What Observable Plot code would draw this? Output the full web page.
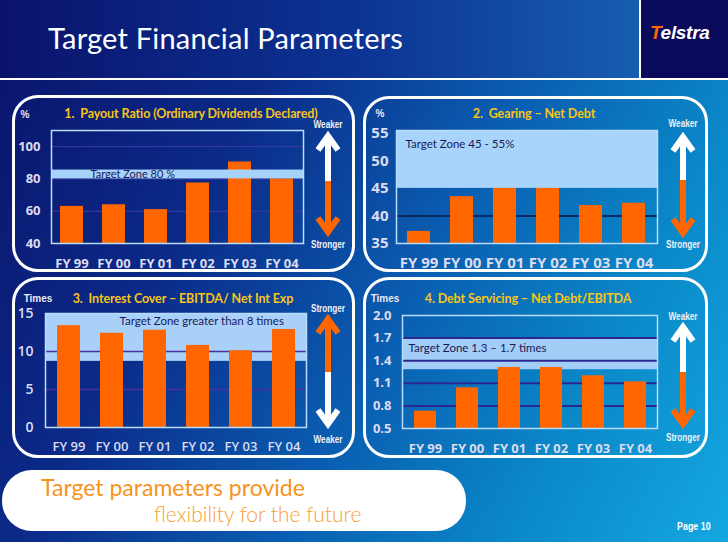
<!DOCTYPE html>
<html>
<head>
<meta charset="utf-8">
<script src="https://cdn.jsdelivr.net/npm/d3@7"></script>
<script src="https://cdn.jsdelivr.net/npm/@observablehq/plot@0.6"></script>
<style>
  html, body { margin: 0; padding: 0; }
  #slide { position: relative; width: 728px; height: 542px; overflow: hidden;
    background: linear-gradient(118deg, #0a136a 0%, #0b2a88 30%, #0a5cb0 55%, #0a88c8 78%, #14a8e0 100%);
    font-family: Lato, "Open Sans", sans-serif; }
  .abs { position: absolute; }
  #header { left: 0; top: 0; width: 728px; height: 78px;
    background: linear-gradient(90deg, #0a136c 0%, #0c3494 50%, #1a6cb8 100%); }
  #hline { left: 0; top: 78px; width: 728px; height: 2px; background: #fff; }
  #logo { left: 639px; top: 0; width: 89px; height: 78px; background: #0a0a5c; border-left: 2px solid #fff; box-sizing: border-box; }
  #logotext { left: 650px; top: 22px; font: italic bold 19px "Liberation Sans", sans-serif; color: #fff; letter-spacing: -0.3px; }
  #title { left: 48px; top: 20px; font-size: 29px; color: #fff; font-family: Lato, sans-serif; font-weight: 400; letter-spacing: 0.2px; }
  .panel { border: 3px solid #fff; border-radius: 26px; box-sizing: border-box; }
  .ptitle { color: #f7c41a; font-weight: 700; font-size: 12.5px; white-space: nowrap; transform: translate(-50%, -50%); letter-spacing: -0.1px; }
  .unit { color: #e8e8f4; font: bold 10px "Liberation Sans", sans-serif; transform: translate(-50%, -50%); white-space: nowrap; }
  .dir { color: #eef0f8; font: bold 10.5px "Liberation Sans", sans-serif; transform: translate(-50%, -50%) scaleX(0.78); white-space: nowrap; }
  .chart { position: absolute; }
  #pill { left: 2px; top: 470px; width: 464px; height: 61px; background: #fff; border-radius: 30px; }
  #tag1 { left: 41px; top: 473px; color: #f7931e; font-size: 23px; font-weight: 400; white-space: nowrap; }
  #tag2 { left: 154px; top: 501px; color: #f7a030; font-size: 21px; font-weight: 300; white-space: nowrap; }
  #page { left: 677px; top: 520px; color: #fff; font: bold 10.5px "Liberation Sans", sans-serif; transform-origin: left center; transform: scaleX(0.85); }
</style>
</head>
<body>
<div id="slide">
  <div id="header" class="abs"></div>
  <div id="hline" class="abs"></div>
  <div id="logo" class="abs"></div>
  <div id="logotext" class="abs"><span style="color:#ff6a00">T</span>elstra</div>
  <div id="title" class="abs">Target Financial Parameters</div>

  <div class="abs panel" style="left:12px;top:95px;width:343px;height:177px;"></div>
  <div class="abs panel" style="left:363px;top:96px;width:345px;height:176px;"></div>
  <div class="abs panel" style="left:12px;top:277px;width:343px;height:181px;"></div>
  <div class="abs panel" style="left:363px;top:277px;width:345px;height:181px;"></div>

  <div class="abs ptitle" style="left:191px;top:113px;">1.&nbsp; Payout Ratio (Ordinary Dividends Declared)</div>
  <div class="abs ptitle" style="left:534px;top:113px;">2.&nbsp; Gearing – Net Debt</div>
  <div class="abs ptitle" style="left:183px;top:298px;">3.&nbsp; Interest Cover – EBITDA/ Net Int Exp</div>
  <div class="abs ptitle" style="left:528px;top:298px;">4. Debt Servicing – Net Debt/EBITDA</div>

  <div class="abs unit" style="left:25px;top:114px;">%</div>
  <div class="abs unit" style="left:380px;top:113px;">%</div>
  <div class="abs unit" style="left:38px;top:298px;">Times</div>
  <div class="abs unit" style="left:385px;top:298px;">Times</div>

  <div class="abs dir" style="left:328px;top:124px;">Weaker</div>
  <div class="abs dir" style="left:328px;top:244px;">Stronger</div>
  <div class="abs dir" style="left:683px;top:123px;">Weaker</div>
  <div class="abs dir" style="left:683px;top:244px;">Stronger</div>
  <div class="abs dir" style="left:328px;top:308px;">Stronger</div>
  <div class="abs dir" style="left:328px;top:439px;">Weaker</div>
  <div class="abs dir" style="left:683px;top:316px;">Weaker</div>
  <div class="abs dir" style="left:683px;top:437px;">Stronger</div>

  <svg class="abs" id="arrows" width="728" height="542" style="left:0;top:0;pointer-events:none;"></svg>

  <div id="pill" class="abs"></div>
  <div id="tag1" class="abs">Target parameters provide</div>
  <div id="tag2" class="abs">flexibility for the future</div>
  <div id="page" class="abs">Page 10</div>
</div>
<script>
// ---------- data ----------
const years = ["FY 99", "FY 00", "FY 01", "FY 02", "FY 03", "FY 04"];

const payoutRatio = [63, 64, 61, 77.5, 90.5, 80];
const payoutTicks = [40, 60, 80, 100];
const payoutZone = [80, 85.5];
const payoutGrid = [60, 80, 100];
const payoutZoneLabel = "Target Zone 80 %";

const gearing = [37.2, 43.5, 47.5, 46.5, 41.9, 42.3];
const gearingTicks = [35, 40, 45, 50, 55];
const gearingZone = [45, 55.5];
const gearingGrid = [40];
const gearingZoneLabel = "Target Zone 45 - 55%";

const interestCover = [13.4, 12.4, 12.8, 10.8, 10.1, 12.9];
const coverTicks = [0, 5, 10, 15];
const coverZone = [8.7, 15];
const coverGrid = [5, 10];
const coverZoneLabel = "Target Zone greater than 8 times";

const debtServicing = [0.73, 1.04, 1.31, 1.31, 1.20, 1.12];
const servicingTicks = [0.5, 0.8, 1.1, 1.4, 1.7, 2.0];
const servicingZone = [1.28, 1.7];
const servicingGrid = [0.8, 1.1, 1.4, 1.7];
const servicingZoneLabel = "Target Zone 1.3 – 1.7 times";

// ---------- charts ----------
const slide = document.getElementById("slide");
const ORANGE = "#ff6600";

function makeChart(cfg) {
  const rows = years.map((y, i) => ({year: y, value: cfg.values[i]}));
  const band = Plot.rect([cfg.zone], {y1: d => d[0], y2: d => d[1], fill: cfg.zoneFill});
  const grid = Plot.ruleY(cfg.grid, {stroke: cfg.gridColor, strokeWidth: cfg.gridWidth});
  const bars = Plot.barY(rows, {x: "year", y: "value", fill: ORANGE, y1: cfg.domain[0]});
  const frame = Plot.frame({stroke: "#b8dcfa", strokeWidth: 1.5});
  const label = Plot.text([cfg.label], {
    frameAnchor: "left", y: cfg.labelY, dx: cfg.labelDx, textAnchor: "start",
    fill: "#1a1a5a", fontSize: cfg.labelSize, fontFamily: "Lato, sans-serif", text: d => d
  });
  const marks = cfg.bandOnTop
    ? [grid, bars, band, frame, label]
    : [band, grid, bars, frame, label];
  const svg = Plot.plot({
    width: cfg.width, height: cfg.height,
    marginLeft: cfg.mL, marginRight: cfg.mR, marginTop: cfg.mT, marginBottom: cfg.mB,
    style: {background: "transparent", color: "#dcdcf0", fontFamily: "'Open Sans', sans-serif", overflow: "visible"},
    x: {domain: years, paddingInner: cfg.pi, paddingOuter: cfg.po, label: null},
    y: {domain: cfg.domain, label: null},
    marks: [
      ...marks,
      Plot.axisX({tickSize: 0, tickPadding: cfg.xPad, fontSize: cfg.xSize, fontWeight: cfg.weight, label: null}),
      Plot.axisY({ticks: cfg.ticks, tickFormat: cfg.fmt, tickSize: 0, tickPadding: cfg.yPad, fontSize: cfg.ySize, fontWeight: cfg.weight, label: null})
    ]
  });
  svg.classList.add("chart");
  svg.style.left = cfg.left + "px";
  svg.style.top = cfg.top + "px";
  slide.insertBefore(svg, document.getElementById("arrows"));
}

makeChart({values: payoutRatio, ticks: payoutTicks, zone: payoutZone, grid: payoutGrid,
  label: payoutZoneLabel, labelY: 82.75, labelDx: 39, labelSize: 11,
  domain: [40, 110], fmt: d => d, zoneFill: "#a6d2fb", gridColor: "#3c3ca8", gridWidth: 1,
  bandOnTop: true, left: 0, top: 95, width: 360, height: 180, mL: 51, mR: 57, mT: 35, mB: 32,
  pi: 0.45, po: 0.22,
  xPad: 15, yPad: 11, xSize: 13, ySize: 13, weight: "bold"});

makeChart({values: gearing, ticks: gearingTicks, zone: gearingZone, grid: gearingGrid,
  label: gearingZoneLabel, labelY: 53, labelDx: 9, labelSize: 11.5,
  domain: [35, 55.5], fmt: d => d, zoneFill: "#a8d4fc", gridColor: "#0a2a60", gridWidth: 2,
  bandOnTop: true, left: 360, top: 95, width: 368, height: 180, mL: 36, mR: 71, mT: 35, mB: 32,
  pi: 0.46, po: 0.25,
  xPad: 14, yPad: 8, xSize: 15, ySize: 15, weight: "bold"});

makeChart({values: interestCover, ticks: coverTicks, zone: coverZone, grid: coverGrid,
  label: coverZoneLabel, labelY: 13.95, labelDx: 74, labelSize: 11.5,
  domain: [0, 15], fmt: d => d, zoneFill: "#a8d0f8", gridColor: "#4830a0", gridWidth: 1.5,
  bandOnTop: false, left: 0, top: 275, width: 360, height: 185, mL: 45, mR: 54, mT: 38, mB: 33,
  pi: 0.47, po: 0.25,
  xPad: 14, yPad: 12, xSize: 13, ySize: 14, weight: 600});

makeChart({values: debtServicing, ticks: servicingTicks, zone: servicingZone, grid: servicingGrid,
  label: servicingZoneLabel, labelY: 1.56, labelDx: 6, labelSize: 11.5,
  domain: [0.5, 2.0], fmt: d => d.toFixed(1), zoneFill: "#a2cdf6", gridColor: "#2a2890", gridWidth: 2,
  bandOnTop: false, left: 360, top: 275, width: 368, height: 185, mL: 42, mR: 71, mT: 40, mB: 32,
  pi: 0.48, po: 0.23,
  xPad: 15, yPad: 11, xSize: 13, ySize: 13, weight: "bold"});

// ---------- direction arrows (decoration) ----------
const arrows = [
  {x: 328, top: 132, split: 181, bottom: 236, upColor: "#ffffff", downColor: ORANGE},
  {x: 683, top: 133, split: 180, bottom: 237, upColor: "#ffffff", downColor: ORANGE},
  {x: 328, top: 315, split: 372, bottom: 428, upColor: ORANGE, downColor: "#ffffff"},
  {x: 683, top: 323, split: 372, bottom: 428, upColor: "#ffffff", downColor: ORANGE}
];
const asvg = d3.select("#arrows");
for (const a of arrows) {
  asvg.append("line").attr("x1", a.x).attr("x2", a.x).attr("y1", a.top + 3).attr("y2", a.split)
    .attr("stroke", a.upColor).attr("stroke-width", 6);
  asvg.append("line").attr("x1", a.x).attr("x2", a.x).attr("y1", a.split).attr("y2", a.bottom - 3)
    .attr("stroke", a.downColor).attr("stroke-width", 6);
  asvg.append("polyline").attr("points", `${a.x - 10},${a.top + 18} ${a.x},${a.top + 4} ${a.x + 10},${a.top + 18}`)
    .attr("fill", "none").attr("stroke", a.upColor).attr("stroke-width", 6).attr("stroke-linejoin", "miter");
  asvg.append("polyline").attr("points", `${a.x - 10},${a.bottom - 18} ${a.x},${a.bottom - 4} ${a.x + 10},${a.bottom - 18}`)
    .attr("fill", "none").attr("stroke", a.downColor).attr("stroke-width", 6).attr("stroke-linejoin", "miter");
}
</script>
</body>
</html>
